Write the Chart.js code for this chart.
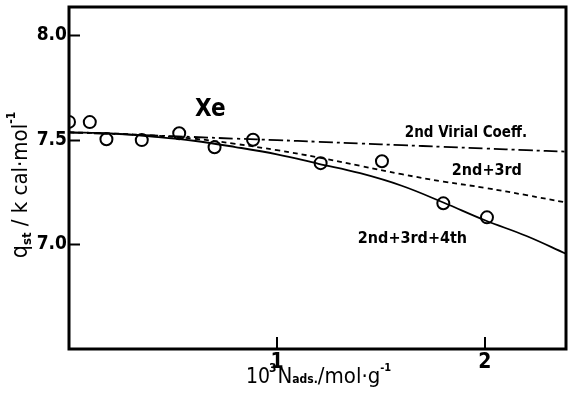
<!DOCTYPE html>
<html><head><meta charset="utf-8">
<script src="https://cdn.jsdelivr.net/npm/chart.js@4.4.1/dist/chart.umd.min.js"></script>
<style>html,body{margin:0;padding:0;background:#fff}#wrap{width:569px;height:412px}</style>
</head><body><div id="wrap"><canvas id="c" width="569" height="412"></canvas></div>
<script>
// Measured points (Xe)
const pointX = [0.0, 0.10, 0.18, 0.35, 0.53, 0.70, 0.885, 1.21, 1.505, 1.80, 2.01];
const pointY = [7.585, 7.584, 7.502, 7.498, 7.531, 7.464, 7.500, 7.388, 7.397, 7.196, 7.129];
// Curves read at these x values
const curveX    = [0, 0.2, 0.4, 0.6, 0.8, 1.0, 1.2, 1.4, 1.6, 1.8, 2.0, 2.2, 2.39];
const virial2   = [7.535, 7.528, 7.520, 7.513, 7.505, 7.498, 7.490, 7.482, 7.474, 7.466, 7.458, 7.450, 7.443];
const virial23  = [7.535, 7.530, 7.520, 7.505, 7.480, 7.450, 7.415, 7.375, 7.335, 7.300, 7.270, 7.235, 7.200];
const virial234 = [7.535, 7.530, 7.515, 7.495, 7.465, 7.430, 7.385, 7.340, 7.280, 7.200, 7.115, 7.040, 6.955];
// Ticks
const xTickValues = [1, 2];
const xTickLabels = ['1', '2'];
const yTickValues = [7.0, 7.5, 8.0];
const yTickLabels = ['7.0', '7.5', '8.0'];
// Text labels inside the plot (data coordinates of left/baseline)
const annotations = [
  {text: 'Xe', x: 0.606, y: 7.612, size: 24},
  {text: '2nd Virial Coeff.', x: 1.615, y: 7.512, size: 15},
  {text: '2nd+3rd', x: 1.841, y: 7.330, size: 16},
  {text: '2nd+3rd+4th', x: 1.389, y: 7.005, size: 16}
];

const FONT = "'DejaVu Sans Condensed','Liberation Sans Narrow','DejaVu Sans',sans-serif";
const toXY = (xs, ys) => xs.map((x, i) => ({x, y: ys[i]}));

function drawRich(ctx, parts, x, y) {
  let cx = x;
  for (const [t, s, dy, w, dx] of parts) {
    ctx.font = (w || 'normal') + ' ' + s + 'px ' + FONT;
    cx += (dx || 0);
    ctx.fillText(t, cx, y + dy);
    cx += ctx.measureText(t).width;
  }
  return cx - x;
}
function richWidth(ctx, parts) {
  let w = 0;
  for (const [t, s, dy, fw, dx] of parts) { ctx.font = (fw || 'normal') + ' ' + s + 'px ' + FONT; w += ctx.measureText(t).width + (dx || 0); }
  return w;
}

const decor = {
  id: 'decor',
  afterDraw(chart) {
    const {ctx, chartArea: a, scales} = chart;
    const xs = scales.x, ys = scales.y;
    ctx.save();
    ctx.strokeStyle = '#000';
    ctx.lineWidth = 3;
    ctx.strokeRect(a.left, a.top, a.right - a.left, a.bottom - a.top);
    ctx.lineWidth = 2;
    ctx.beginPath();
    for (const v of yTickValues) {
      const py = Math.round(ys.getPixelForValue(v)) + 0.5;
      ctx.moveTo(a.left, py); ctx.lineTo(a.left + 11, py);
    }
    for (const v of xTickValues) {
      const px = Math.round(xs.getPixelForValue(v));
      ctx.moveTo(px, a.bottom); ctx.lineTo(px, a.bottom - 12);
    }
    ctx.stroke();
    ctx.fillStyle = '#000';
    ctx.textAlign = 'left';
    ctx.textBaseline = 'alphabetic';
    for (const an of annotations) {
      ctx.font = 'bold ' + an.size + 'px ' + FONT;
      ctx.fillText(an.text, xs.getPixelForValue(an.x), ys.getPixelForValue(an.y));
    }
    const xParts = [['10', 21, 0], ['3', 12, -11, 'bold', -1], ['N', 22, 0, 'normal', 1], ['ads.', 12, 0, 'bold'], ['/mol·g', 22, 0], ['-1', 11, -12, 'bold']];
    const x0 = xs.getPixelForValue(1) - 31;
    drawRich(ctx, xParts, x0, 383);
    const yParts = [['q', 23, 0], ['st', 13, 4, 'bold'], [' / k cal·mol', 22, 0], ['-1', 12, -12, 'bold']];
    const wy = richWidth(ctx, yParts);
    ctx.translate(27, 185);
    ctx.rotate(-Math.PI / 2);
    drawRich(ctx, yParts, -wy / 2, 0);
    ctx.restore();
  }
};

new Chart(document.getElementById('c'), {
  type: 'scatter',
  data: {
    datasets: [
      {label: '2nd Virial Coeff.', data: toXY(curveX, virial2), showLine: true, borderColor: '#000', borderWidth: 1.8,
       borderDash: [14, 4, 3, 4], pointRadius: 0, tension: 0.4, clip: 0},
      {label: '2nd+3rd', data: toXY(curveX, virial23), showLine: true, borderColor: '#000', borderWidth: 1.8,
       borderDash: [5, 4], pointRadius: 0, tension: 0.4, clip: 0},
      {label: '2nd+3rd+4th', data: toXY(curveX, virial234), showLine: true, borderColor: '#000', borderWidth: 1.8,
       pointRadius: 0, tension: 0.4, clip: 0},
      {label: 'Xe', data: toXY(pointX, pointY), showLine: false, pointRadius: 6, pointBorderWidth: 2,
       pointBackgroundColor: '#fff', borderColor: '#000', pointBorderColor: '#000', clip: 0}
    ]
  },
  options: {
    responsive: false,
    animation: false,
    devicePixelRatio: 1,
    layout: {autoPadding: false, padding: {left: 0, right: 3, top: 7, bottom: 0}},
    plugins: {legend: {display: false}, tooltip: {enabled: false}},
    scales: {
      x: {
        type: 'linear', min: 0, max: 2.39,
        grid: {display: false, drawTicks: false}, border: {display: false},
        afterBuildTicks: s => { s.ticks = xTickValues.map(v => ({value: v})); },
        afterFit: s => { s.height = 63; s.paddingLeft = 0; s.paddingRight = 0; },
        ticks: {color: '#000', padding: 1, maxRotation: 0, autoSkip: false,
          font: {family: FONT, size: 21, weight: 'bold'},
          callback: (v) => xTickLabels[xTickValues.indexOf(v)] ?? ''}
      },
      y: {
        type: 'linear', min: 6.5, max: 8.134,
        grid: {display: false, drawTicks: false}, border: {display: false},
        afterBuildTicks: s => { s.ticks = yTickValues.map(v => ({value: v})); },
        afterFit: s => { s.width = 69; s.paddingTop = 0; s.paddingBottom = 0; },
        ticks: {color: '#000', padding: 2, autoSkip: false,
          font: {family: FONT, size: 19, weight: 'bold'},
          callback: (v) => yTickLabels[yTickValues.indexOf(v)] ?? ''}
      }
    }
  },
  plugins: [decor]
});
</script>
</body></html>
